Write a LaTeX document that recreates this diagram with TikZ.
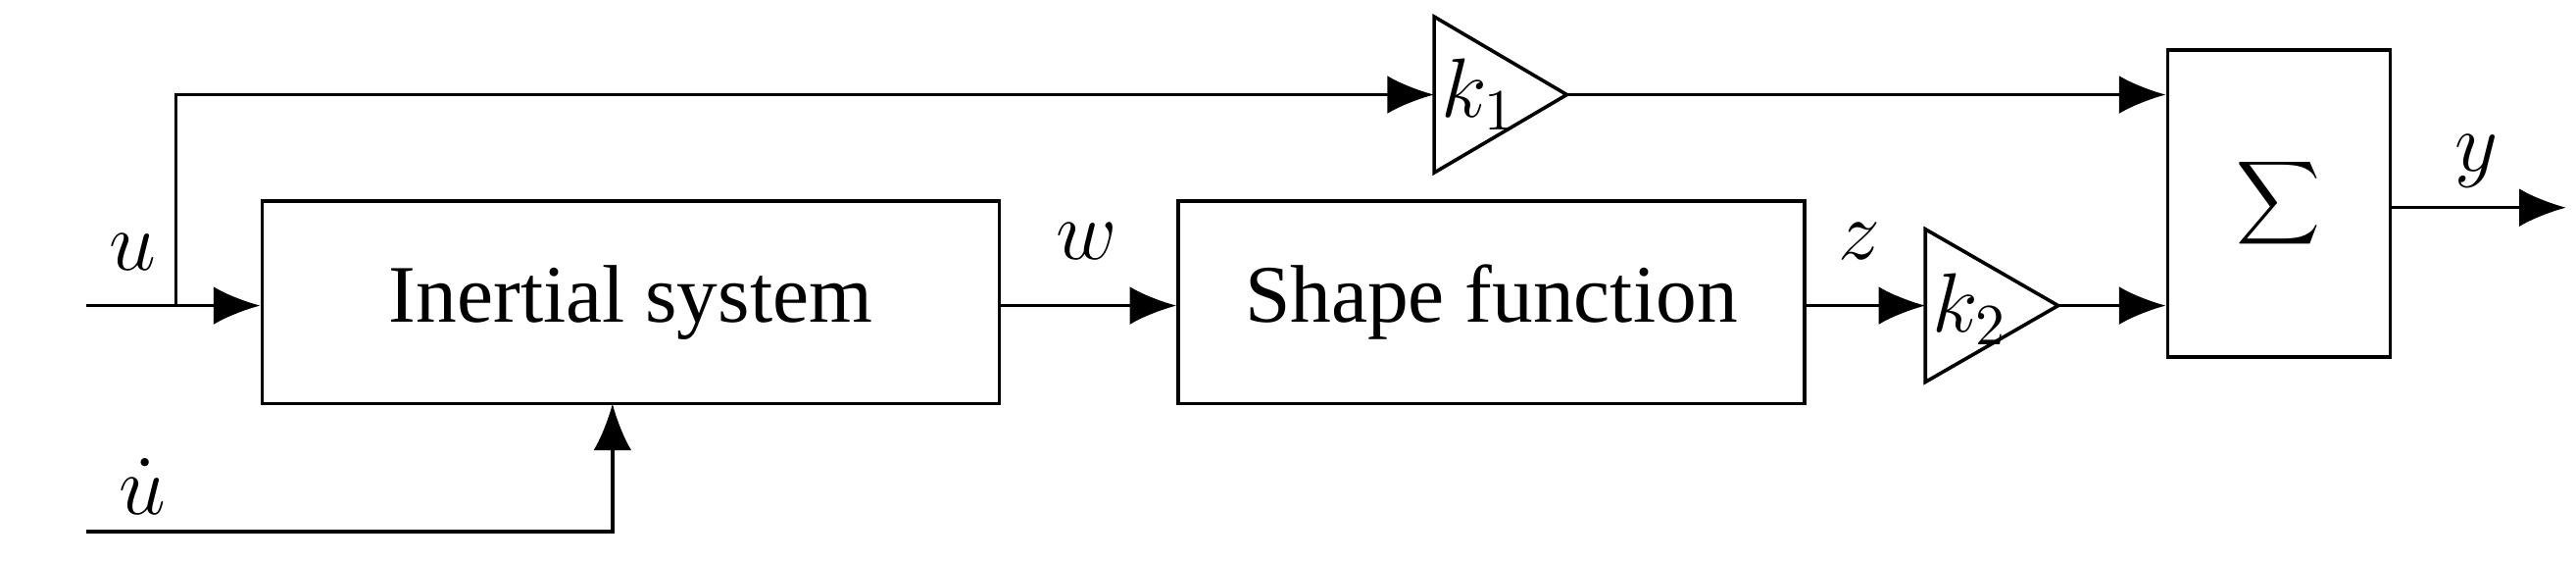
\documentclass[tikz,border=0pt]{standalone}
\usepackage{fontspec}
\setmainfont{Liberation Serif}
\usetikzlibrary{arrows.meta}
\begin{document}
\begin{tikzpicture}[x=0.01cm,y=-0.01cm,
  blk/.style={draw,line width=0.6pt,inner sep=0},
  con/.style={line width=0.6pt,-{Latex[length=8pt,width=6.5pt]}},
  ln/.style={line width=0.6pt},
  lab/.style={font=\fontsize{14}{16}\selectfont}]
\useasboundingbox (0,0) rectangle (1552,338);
\node[blk,minimum width=4.44cm,minimum height=1.22cm] (is) at (380,182) {\fontsize{14}{16}\selectfont Inertial system};
\node[blk,minimum width=3.77cm,minimum height=1.22cm] (sf) at (898.5,182) {\fontsize{14}{16}\selectfont Shape function};
\node[blk,minimum width=1.34cm,minimum height=1.85cm] (sum) at (1373,122.5) {\fontsize{30}{34}\selectfont$\displaystyle\sum$};
\draw[ln] (864,10) -- (944,57) -- (864,104) -- cycle;
\draw[ln] (1160,138) -- (1240,184) -- (1160,230) -- cycle;
\coordinate (k1i) at (864,57); \coordinate (k1o) at (944,57);
\coordinate (k2i) at (1160,184); \coordinate (k2o) at (1240,184);
\node[lab] (k1) at (891,57) {$k_1$};
\node[lab] (k2) at (1187,186) {$k_2$};
\coordinate (uin) at (52,184); \coordinate (br) at (106,184);
\coordinate (udin) at (52,320); \coordinate (yout) at (1546,125);
\draw[ln] (uin) -- (br);
\draw[con] (br) -- (is.west|-br);
\draw[con] (br) |- (k1i);
\draw[con] (k1o) -- (sum.west|-k1o);
\draw[con] (is.east|-br) -- (sf.west|-br);
\draw[con] (sf.east|-br) -- (k2i);
\draw[con] (k2o) -- (sum.west|-k2o);
\draw[con] (sum.east|-yout) -- (yout);
\draw[con] (udin) -| (369,243);
\node[lab] (lu) at (80,152) {$u$};
\node[lab] (lud) at (86,293) {$\dot u$};
\node[lab] (lw) at (655,145) {$w$};
\node[lab] (lz) at (1120,145) {$z$};
\node[lab] (ly) at (1492,97) {$y$};
\end{tikzpicture}
\end{document}
